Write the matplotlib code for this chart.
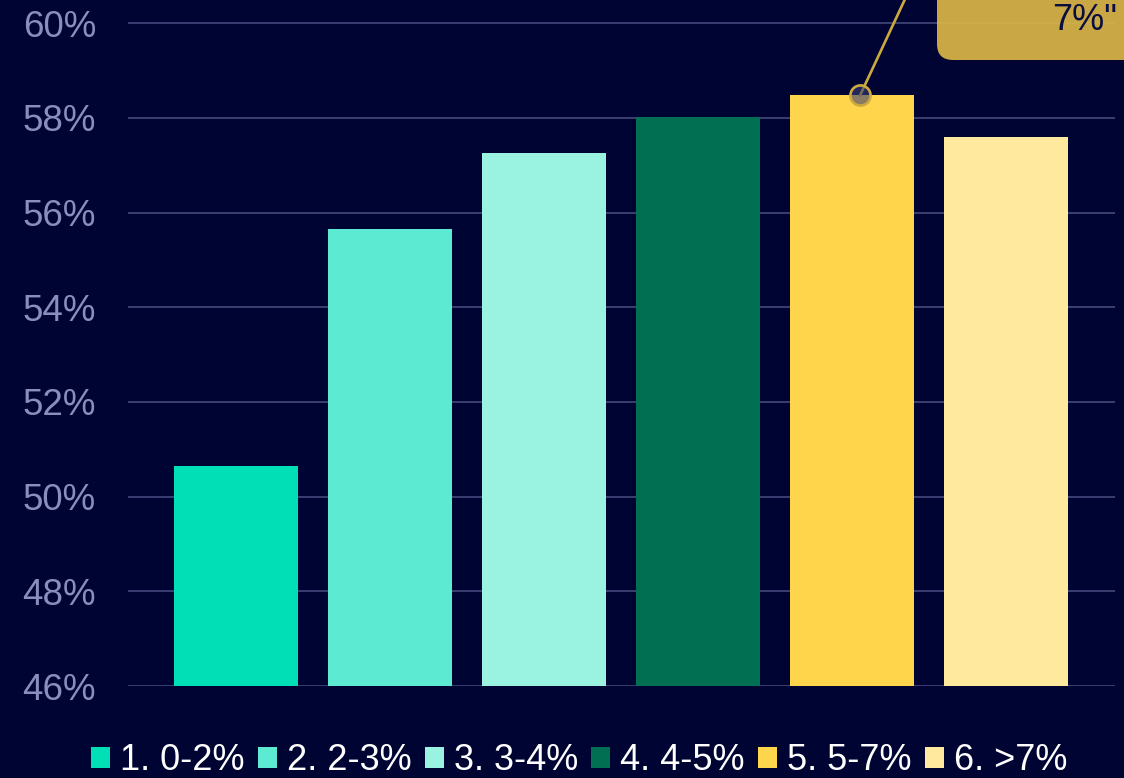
import matplotlib
matplotlib.use("Agg")
import matplotlib.pyplot as plt
from matplotlib.patches import Patch, FancyBboxPatch
from matplotlib.transforms import IdentityTransform

plt.rcParams['font.family'] = ['Liberation Sans', 'DejaVu Sans']

# share of outcomes by rate bucket
categories = ["1. 0-2%", "2. 2-3%", "3. 3-4%", "4. 4-5%", "5. 5-7%", "6. >7%"]
values = [50.65, 55.65, 57.26, 58.02, 58.48, 57.59]
colors = ["#00DFB6", "#5DEAD3", "#9AF2E1", "#006F52", "#FFD54B", "#FFE99F"]
yticks = [46, 48, 50, 52, 54, 56, 58, 60]

bg = "#000433"
W, H = 1124, 778

fig = plt.figure(figsize=(W / 100, H / 100), dpi=100, facecolor=bg)
ax = fig.add_axes([128 / W, (H - 686) / H, 987 / W, 686 / H])
ax.set_facecolor(bg)

x = list(range(len(categories)))
ax.bar(x, values, width=0.805, color=colors, zorder=2)

ax.set_xlim(-0.7, 5.71)
ax.set_ylim(46, 60.49)
ax.set_yticks(yticks)
ax.set_yticklabels([f"{t}%" for t in yticks])
ax.set_xticks([])
ax.tick_params(axis='y', length=0, pad=23, labelsize=26.5, labelcolor="#8A8EBE")
ax.grid(axis='y', color="#3A3E70", linewidth=1.4, zorder=0)
for s in ax.spines.values():
    s.set_visible(False)

# callout pointer on the 5-7% bar
px = 4.055
py = values[4]
ax.plot([px, px + 0.57], [py, py + 3.97], color="#CDAA3E", linewidth=1.9,
        zorder=3, clip_on=False)
ax.plot(px, py, marker='o', markersize=14.5, markerfacecolor=(0.227, 0.243, 0.455, 0.6),
        markeredgecolor="#CDAA3E", markeredgewidth=1.9, zorder=4, clip_on=False)

# tooltip box running off the top edge
box = FancyBboxPatch((937, H - 60), 400, 300,
                     boxstyle="round,pad=0,rounding_size=16",
                     facecolor="#DAB646", edgecolor="none", alpha=0.92,
                     transform=IdentityTransform(), zorder=5)
fig.patches.append(box)
fig.text(1117 / W, 1 - 21 / H, '7%"', ha='right', va='center',
         fontsize=26, color="#0A0E3E", zorder=6)

handles = [Patch(facecolor=c, edgecolor='none') for c in colors]
fig.legend(handles, categories, loc='center', bbox_to_anchor=(579 / W, 17 / H),
           ncol=6, frameon=False, fontsize=26, labelcolor='white',
           handlelength=0.53, handleheight=0.5, handletextpad=0.28,
           columnspacing=0.36, borderaxespad=0)

fig.savefig("out.png", dpi=100, facecolor=bg)
